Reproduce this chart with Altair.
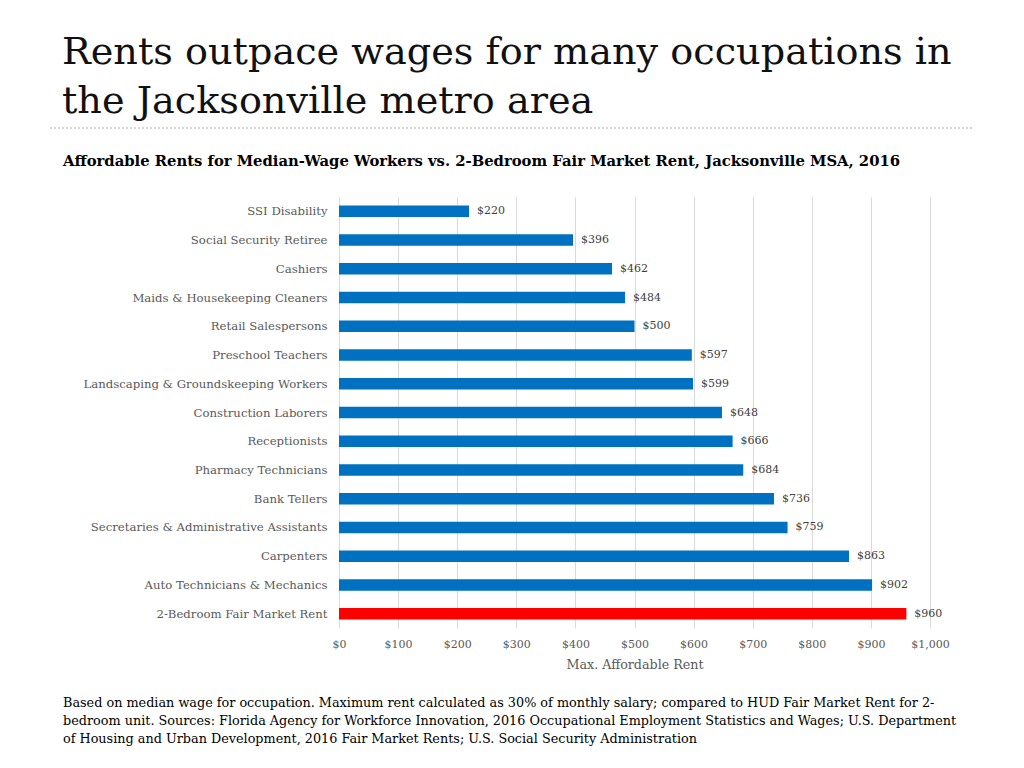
import altair as alt
import pandas as pd

categories = [
    "SSI Disability", "Social Security Retiree", "Cashiers",
    "Maids & Housekeeping Cleaners", "Retail Salespersons", "Preschool Teachers",
    "Landscaping & Groundskeeping Workers", "Construction Laborers", "Receptionists",
    "Pharmacy Technicians", "Bank Tellers", "Secretaries & Administrative Assistants",
    "Carpenters", "Auto Technicians & Mechanics", "2-Bedroom Fair Market Rent",
]
values = [220, 396, 462, 484, 500, 597, 599, 648, 666, 684, 736, 759, 863, 902, 960]
groups = ["occ"] * 14 + ["fmr"]

title_lines = ["Rents outpace wages for many occupations in", "the Jacksonville metro area"]
subtitle = "Affordable Rents for Median-Wage Workers vs. 2-Bedroom Fair Market Rent, Jacksonville MSA, 2016"
footnote_lines = [
    "Based on median wage for occupation. Maximum rent calculated as 30% of monthly salary; compared to HUD Fair Market Rent for 2-",
    "bedroom unit. Sources: Florida Agency for Workforce Innovation, 2016 Occupational Employment Statistics and Wages; U.S. Department",
    "of Housing and Urban Development, 2016 Fair Market Rents; U.S. Social Security Administration",
]

FONT = "DejaVu Serif"
W, H = 591, 431

df = pd.DataFrame({"cat": categories, "val": values, "grp": groups})
df["lbl"] = ["$" + str(v) for v in values]

base = alt.Chart(df)
y_enc = alt.Y("cat:N", sort=categories, scale=alt.Scale(paddingInner=0.6, paddingOuter=0.3),
              axis=alt.Axis(title=None, labelFont=FONT, labelFontSize=11.7, labelColor="#595959",
                            domain=False, ticks=False, labelPadding=12, labelLimit=0))
x_enc = alt.X("val:Q", scale=alt.Scale(domain=[0, 1000], nice=False),
              axis=alt.Axis(title="Max. Affordable Rent", format="$,d", values=list(range(0, 1001, 100)),
                            labelFont=FONT, labelFontSize=11, labelColor="#595959", labelPadding=10,
                            labelFlush=False, labelOverlap=False,
                            titleFont=FONT, titleFontSize=12.7, titleFontWeight="normal", titleColor="#595959",
                            titlePadding=9, domain=False, ticks=False,
                            grid=True, gridColor="#D9D9D9", gridWidth=1))

bars = base.mark_bar().encode(
    x=x_enc, y=y_enc,
    color=alt.Color("grp:N", scale=alt.Scale(domain=["occ", "fmr"], range=["#0070C0", "#FF0000"]), legend=None),
)
labels = base.mark_text(align="left", dx=8, font=FONT, fontSize=11, color="#404040").encode(
    x="val:Q", y=alt.Y("cat:N", sort=categories), text="lbl:N"
)

def text_layer(txt, x, y, size, weight="normal", color="#000000", font=FONT):
    return alt.Chart(pd.DataFrame({"t": [txt]})).mark_text(
        align="left", baseline="middle", font=font, fontSize=size, fontWeight=weight, color=color
    ).encode(text="t:N", x=alt.value(x), y=alt.value(y))

texts = [
    text_layer(title_lines[0], -277, -144, 38.2, color="#111111"),
    text_layer(title_lines[1], -277, -95, 38.2, color="#111111"),
    text_layer(subtitle, -276, -35, 14.8, weight="bold"),
]
for i, line in enumerate(footnote_lines):
    texts.append(text_layer(line, -276, 506 + 18 * i, 12.8))

dash = alt.Chart(pd.DataFrame({"a": [0]})).mark_rule(color="#C8C8C8", strokeDash=[2, 2], strokeWidth=1.5).encode(
    x=alt.value(-289), x2=alt.value(633), y=alt.value(-69)
)

chart = alt.layer(bars, labels, dash, *texts).properties(
    width=W, height=H,
    autosize=alt.AutoSizeParams(type="none"),
    padding={"left": 331, "top": 189, "right": 80, "bottom": 125},
).configure_view(stroke=None)

chart.save("out.html", embed_options={"renderer": "svg", "actions": False})
